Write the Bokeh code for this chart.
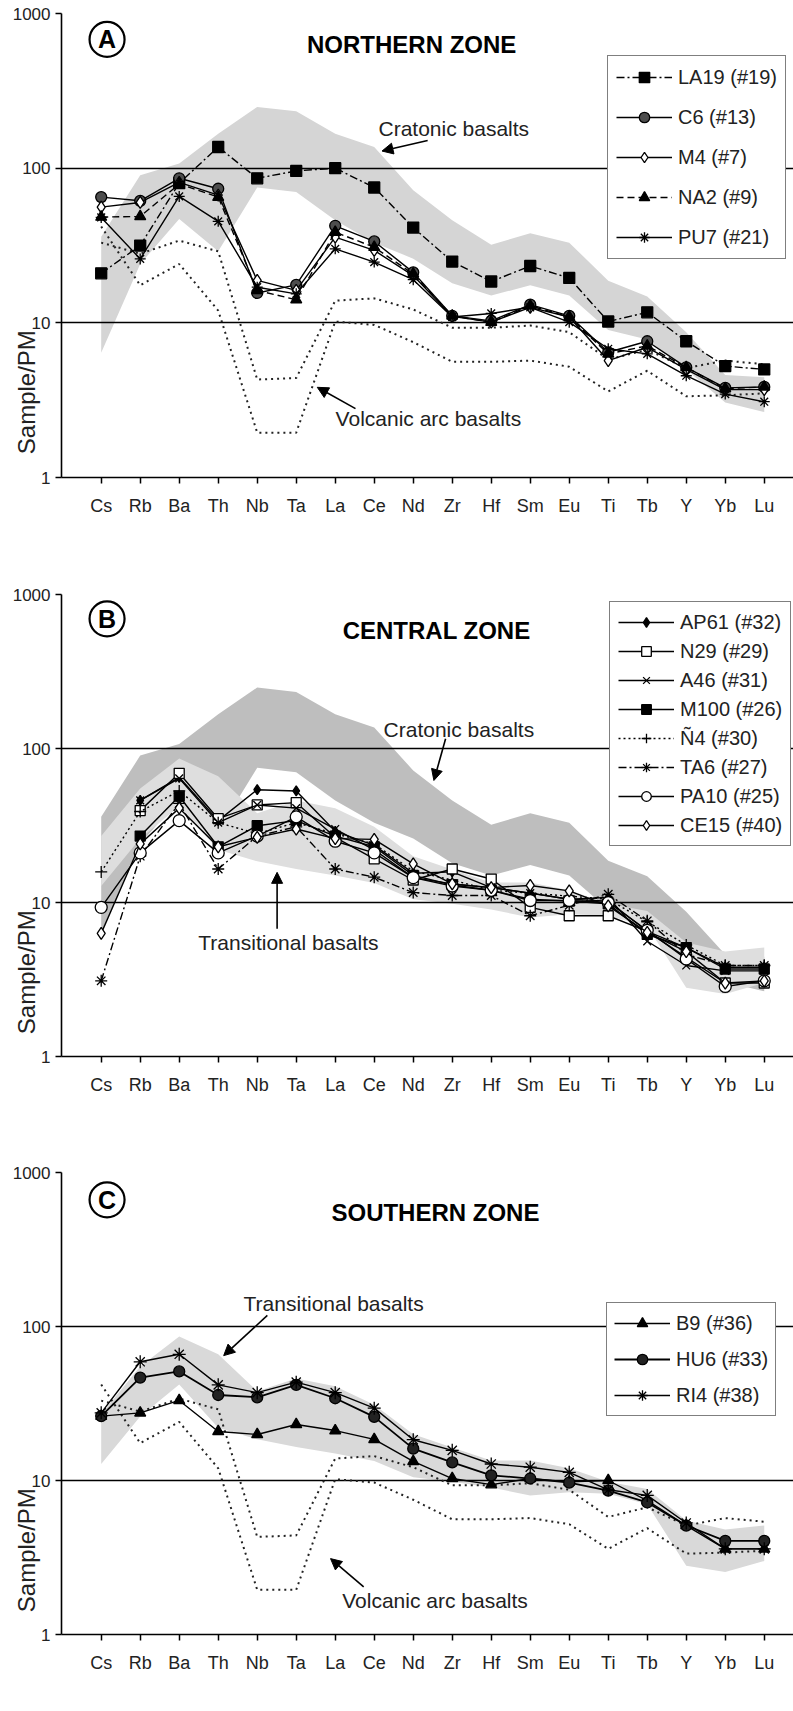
import math
from bokeh.plotting import figure
from bokeh.models import (Range1d, FixedTicker, NumeralTickFormatter, Legend, LegendItem,
                          Label, Arrow, NormalHead)
from bokeh.layouts import column
from bokeh.embed import file_html
from bokeh.resources import INLINE

FONT = "Liberation Sans"
NAN = float("nan")

ELEMENTS = ["Cs", "Rb", "Ba", "Th", "Nb", "Ta", "La", "Ce", "Nd", "Zr", "Hf", "Sm",
            "Eu", "Ti", "Tb", "Y", "Yb", "Lu"]
X = list(range(len(ELEMENTS)))

# ---------------- reference fields ----------------
CRATONIC_HI = [36, 90, 107, 167, 249, 233, 167, 137, 72, 46, 32, 38, 33, 18.7, 14.8, 8.7, 4.6, 4.45]
CRATONIC_LO = [6.4, 24, 47, 29, 75, 70, 46, 33, 26, 18, 15, 17.5, 15, 9.0, 7.8, 5.0, 3.05, 2.65]
TRANS_HI = [27, 55, 86, 66, 38, 46, 41, 31, 20, 16.4, 13.5, 13.5, 12, 9.8, 8.8, 5.5, 4.8, 5.1]
TRANS_LO = [12.8, 26, 42, 22, 18.5, 16.5, 15, 13.4, 10.5, 9.8, 9.0, 8.0, 8.4, 8.2, 7.0, 2.8, 2.55, 3.0]
VAB_1 = [33, 28, 34, 29, 4.3, 4.4, 13.9, 14.4, 12.2, 9.3, 9.3, 9.6, 8.7, 5.8, 6.7, 5.1, 5.7, 5.4]
VAB_2 = [42, 17.5, 24, 12, 1.95, 1.95, 10.2, 9.7, 7.5, 5.6, 5.6, 5.7, 5.2, 3.6, 4.9, 3.35, 3.4, 3.5]

# ---------------- panel A : northern zone ----------------
LA19 = [20.9, 31.6, 80, 137, 86, 96, 100, 75, 41.3, 24.9, 18.5, 23.3, 19.5, 10.2, 11.7, 7.6, 5.25, 5.0]
C6 = [65, 61.5, 86, 73.6, 15.6, 17.6, 42.4, 33.6, 21.2, 11.1, 10.3, 13.1, 11.1, 6.45, 7.6, 5.15, 3.8, 3.85]
M4 = [56, 60, 81, 67, 18.8, 16.2, 35.8, 29.4, 20.2, 11.0, 10.1, 12.6, 10.9, 5.7, 6.95, 5.0, 3.7, 3.7]
NA2 = [48.3, 48.7, 79, 65, 16.2, 14.1, 38.6, 30.8, 20.7, 11.1, 10.1, 12.9, 10.9, 6.3, 7.1, 5.15, 3.75, 3.85]
PU7 = [48, 25.9, 65.7, 45.3, 17, 15.4, 30.1, 24.7, 19, 10.9, 11.5, 12.6, 10.1, 6.8, 6.3, 4.55, 3.46, 3.09]

# ---------------- panel B : central zone ----------------
AP61 = [NAN, 46, 65, 34, 54, 53, 29, 23.5, 15.5, 15.8, 12.5, 11.5, 10.5, 10.2, 6.5, 5.1, 3.8, 3.8]
N29 = [NAN, 39.5, 69, 35, 43, 44.5, 26.5, 19.2, 14, 16.5, 14.2, 9.3, 8.2, 8.2, 6.5, 4.4, 3.0, 3.0]
A46 = [NAN, 46, 64, 33, 43, 41, 30, 22, 14.5, 13.2, 12.5, 11.5, 10.5, 10.8, 5.6, 3.9, 3.6, 3.6]
M100 = [NAN, 27, 49, 23, 31.5, 34, 27, 23, 15, 13, 12, 10.5, 10.2, 9.8, 6.2, 5.1, 3.7, 3.7]
N4 = [15.8, 39, 53, 33, 28, 33, 28, 24, 16, 14, 12, 11.5, 11, 10.5, 7.5, 5.3, 3.9, 3.9]
TA6 = [3.1, 20, 44, 16.5, 27, 31, 16.5, 14.6, 11.6, 11.1, 11.1, 8.2, 9.6, 11.3, 7.6, 4.6, 3.9, 3.9]
PA10 = [9.3, 21, 34, 21, 27, 36, 25, 21, 14.5, 12.8, 12, 10.3, 10.3, 10, 6.6, 4.3, 2.85, 3.1]
CE15 = [6.3, 24, 41, 23, 26.5, 30, 26, 25.7, 17.8, 13.2, 12.5, 12.9, 11.9, 9.5, 6.4, 4.8, 3.0, 3.1]

# ---------------- panel C : southern zone ----------------
B9 = [26.2, 27.5, 33.1, 20.8, 19.9, 23.1, 21.1, 18.5, 13.3, 10.3, 9.4, 10.3, 9.8, 10.0, 7.4, 5.1, 3.6, 3.6]
HU6 = [26.2, 46.6, 51.1, 35.9, 34.7, 41.8, 34.2, 25.9, 16.1, 13.1, 10.8, 10.3, 9.7, 8.6, 7.2, 5.1, 4.05, 4.05]
RI4 = [27.5, 59, 66, 41.8, 37.2, 43.5, 37.2, 29.5, 18.4, 15.7, 12.8, 12.2, 11.3, 8.7, 8.0, 5.3, 3.6, 3.6]

# ---------------- layout constants ----------------
X_START, X_END = -1.018, 17.75
Y_TICKS = [1, 10, 100, 1000]
GRID_TICKS = [10, 100, 1000]
# trailing no-break spaces push the centred axis title towards the bottom, as in the original
Y_TITLE = "Sample/PM" + "\u00a0" * 44


def make_fig(height, top, bottom):
    p = figure(width=793, height=height, y_axis_type="log",
               x_range=Range1d(X_START, X_END), y_range=Range1d(1, 1000),
               output_backend="svg", toolbar_location=None,
               min_border_left=61, min_border_right=0,
               min_border_top=top, min_border_bottom=bottom)
    p.outline_line_color = None
    p.background_fill_color = "white"
    p.border_fill_color = "white"
    p.xgrid.visible = False
    p.ygrid.ticker = FixedTicker(ticks=GRID_TICKS)
    p.ygrid.grid_line_color = "black"
    p.ygrid.grid_line_width = 1.6
    p.yaxis.ticker = FixedTicker(ticks=Y_TICKS)
    p.yaxis.formatter = NumeralTickFormatter(format="0")
    p.yaxis.minor_tick_line_color = None
    p.yaxis.major_tick_out = 6
    p.yaxis.major_tick_in = 0
    p.yaxis.major_label_standoff = 5
    p.yaxis.major_label_text_font = FONT
    p.yaxis.major_label_text_font_size = "17px"
    p.yaxis.major_label_text_color = "#222222"
    p.yaxis.axis_label = Y_TITLE
    p.yaxis.axis_label_standoff = -30
    p.yaxis.axis_label_text_font = FONT
    p.yaxis.axis_label_text_font_size = "24px"
    p.yaxis.axis_label_text_font_style = "normal"
    p.yaxis.axis_label_text_color = "#222222"
    p.xaxis.ticker = FixedTicker(ticks=X)
    p.xaxis.major_label_overrides = {i: e for i, e in enumerate(ELEMENTS)}
    p.xaxis.minor_tick_line_color = None
    p.xaxis.major_tick_out = 6
    p.xaxis.major_tick_in = 0
    p.xaxis.major_label_standoff = 12
    p.xaxis.major_label_text_font = FONT
    p.xaxis.major_label_text_font_size = "18px"
    p.xaxis.major_label_text_color = "#222222"
    for ax in (p.xaxis, p.yaxis):
        ax.axis_line_color = "black"
        ax.axis_line_width = 1.6
        ax.major_tick_line_color = "black"
        ax.major_tick_line_width = 1.5
    return p


def band(p, hi, lo, color):
    p.varea(x=X, y1=lo, y2=hi, fill_color=color, level="image")


def vab(p):
    for ys in (VAB_1, VAB_2):
        p.line(X, ys, line_color="#222222", line_width=2.0, line_dash="2 4")


def series(p, ys, label, marker, fill, dash, items, size=11, lw=1.4):
    lr = p.line(X, ys, line_color="black", line_width=lw, line_dash=dash)
    sr = p.scatter(X, ys, marker=marker, size=size, line_color="black",
                   fill_color=fill, line_width=1.3)
    items.append(LegendItem(label=label, renderers=[lr, sr]))


def legend(p, items, loc, gh, spacing, padding):
    lg = Legend(items=items, location=loc, orientation="vertical",
                border_line_color="black", border_line_width=1.6,
                background_fill_color="white", background_fill_alpha=1.0,
                label_text_font=FONT, label_text_font_size="20px",
                label_text_color="#222222",
                glyph_width=56, glyph_height=gh, label_height=gh,
                spacing=spacing, padding=padding, margin=0, label_standoff=6)
    p.add_layout(lg)


def header(p, letter, title, title_x, title_y, letter_y):
    p.scatter(x=[0.15], y=[letter_y], marker="circle", size=35, fill_color=None,
              line_color="black", line_width=2.2)
    p.add_layout(Label(x=0.15, y=letter_y, text=letter, text_align="center",
                       text_baseline="middle", text_font=FONT, text_font_size="25px",
                       text_font_style="bold", text_color="black"))
    p.add_layout(Label(x=title_x, y=title_y, text=title, text_align="center",
                       text_baseline="middle", text_font=FONT, text_font_size="24px",
                       text_font_style="bold", text_color="black"))


def note(p, text, x, y, ax0, ay0, ax1, ay1):
    p.add_layout(Label(x=x, y=y, text=text, text_align="left", text_baseline="middle",
                       text_font=FONT, text_font_size="21px", text_color="#222222"))
    p.add_layout(Arrow(x_start=ax0, y_start=ay0, x_end=ax1, y_end=ay1,
                       line_color="black", line_width=1.6,
                       end=NormalHead(size=11, fill_color="black", line_color="black")))


# ---------------- Panel A ----------------
pA = make_fig(580, 13, 103)
band(pA, CRATONIC_HI, CRATONIC_LO, "#d5d5d5")
vab(pA)
itA = []
series(pA, LA19, "LA19 (#19)", "square", "black", "8 3 2 3", itA)
series(pA, C6, "C6 (#13)", "circle", "#4d4d4d", "solid", itA)
series(pA, M4, "M4 (#7)", "diamond", "white", "solid", itA, size=12)
series(pA, NA2, "NA2 (#9)", "triangle", "black", "7 4", itA)
series(pA, PU7, "PU7 (#21)", "asterisk", None, "solid", itA)
legend(pA, itA, (546, 218), 26, 14, 8)
header(pA, "A", "NORTHERN ZONE", 7.96, 630, 680)
note(pA, "Cratonic basalts", 7.11, 181, 8.37, 151, 7.2, 129)
note(pA, "Volcanic arc basalts", 6.01, 2.40, 6.52, 2.79, 5.54, 3.83)

# ---------------- Panel B ----------------
pB = make_fig(578, 14, 102)
band(pB, CRATONIC_HI, CRATONIC_LO, "#bebebe")
band(pB, TRANS_HI, TRANS_LO, "#dedede")
itB = []
series(pB, AP61, "AP61 (#32)", "diamond", "black", "solid", itB, size=10)
series(pB, N29, "N29 (#29)", "square", "white", "solid", itB, size=10)
series(pB, A46, "A46 (#31)", "x", None, "solid", itB, size=11)
series(pB, M100, "M100 (#26)", "square", "black", "solid", itB, size=10)
series(pB, N4, "Ñ4 (#30)", "cross", None, "2 3", itB, size=12)
series(pB, TA6, "TA6 (#27)", "asterisk", None, "8 3 2 3", itB, size=12)
series(pB, PA10, "PA10 (#25)", "circle", "white", "solid", itB, size=12)
series(pB, CE15, "CE15 (#40)", "diamond", "white", "solid", itB, size=12)
legend(pB, itB, (548, 210), 24, 5, 8)
header(pB, "B", "CENTRAL ZONE", 8.6, 585, 695)
note(pB, "Cratonic basalts", 7.24, 132, 8.83, 115.6, 8.53, 62)
note(pB, "Transitional basalts", 2.49, 5.52, 4.51, 6.75, 4.51, 15.7)

# ---------------- Panel C ----------------
pC = make_fig(553, 14, 77)
band(pC, TRANS_HI, TRANS_LO, "#d9d9d9")
vab(pC)
itC = []
series(pC, B9, "B9 (#36)", "triangle", "black", "solid", itC)
series(pC, HU6, "HU6 (#33)", "circle", "#222222", "solid", itC, lw=1.8)
series(pC, RI4, "RI4 (#38)", "asterisk", None, "solid", itC, size=13)
legend(pC, itC, (545, 218), 26, 10, 7)
header(pC, "C", "SOUTHERN ZONE", 8.57, 550, 665)
note(pC, "Transitional basalts", 3.65, 140, 4.26, 118, 3.14, 64.7)
note(pC, "Volcanic arc basalts", 6.18, 1.67, 6.73, 2.04, 5.88, 3.11)

layout = column(pA, pB, pC, spacing=0)
open("out.html", "w").write(file_html(layout, INLINE))
